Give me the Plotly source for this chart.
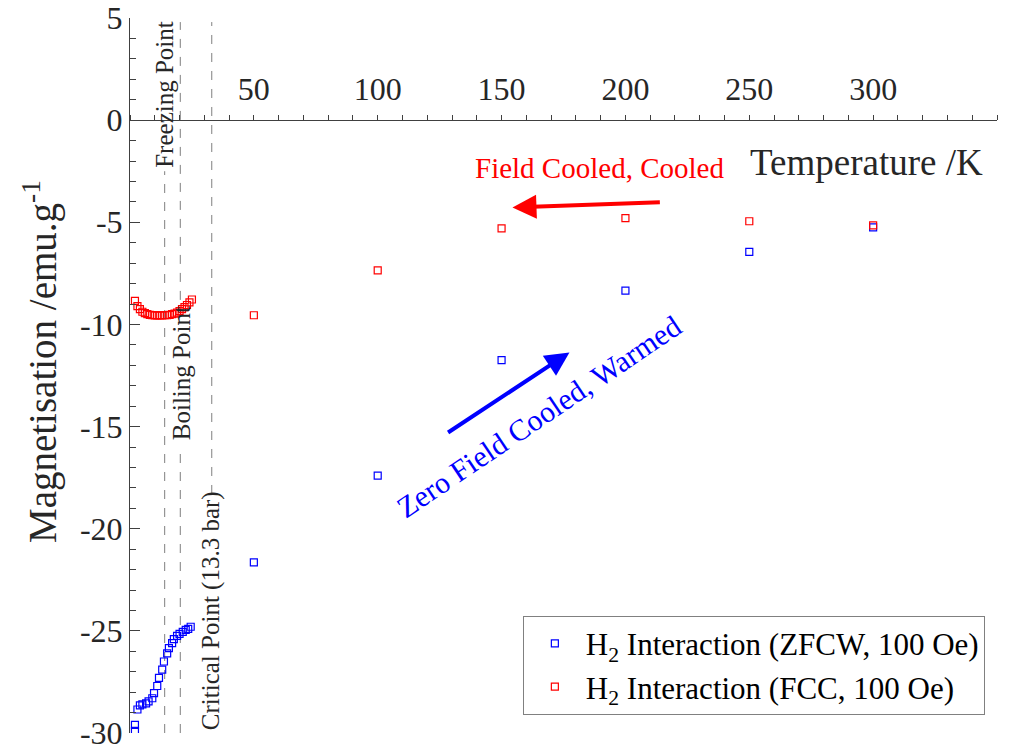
import plotly.graph_objects as go

# ---- data ----
zfcw_T = [2, 2, 3, 4, 5, 6.5, 7.5, 9, 9.7, 11, 11.7, 13, 13.7, 15, 15.7, 17, 17.7, 19, 20, 21.3, 22.5, 23.5, 24.5,
          50, 100, 150, 200, 250, 300]
zfcw_M = [-29.9, -29.6, -28.85, -28.65, -28.6, -28.55, -28.45, -28.3, -28.05, -27.7, -27.3, -26.9, -26.5, -26.1,
          -25.85, -25.6, -25.4, -25.25, -25.15, -25.05, -24.95, -24.9, -24.8,
          -21.65, -17.4, -11.75, -8.35, -6.45, -5.25]
fcc_T = [2, 3, 4, 5, 6, 7, 8, 9, 10, 11, 12, 13, 14, 15, 16, 17, 18, 19, 20, 21, 22, 23, 24, 25,
         50, 100, 150, 200, 250, 300]
fcc_M = [-8.85, -9.1, -9.25, -9.38, -9.45, -9.5, -9.53, -9.55, -9.56, -9.56, -9.56, -9.56, -9.55, -9.55, -9.53,
         -9.5, -9.47, -9.42, -9.35, -9.25, -9.15, -9.05, -8.92, -8.78,
         -9.55, -7.35, -5.3, -4.8, -4.95, -5.15]

x_tickvals = list(range(0, 351, 10))
x_ticktext = [str(v) if v in (50, 100, 150, 200, 250, 300) else "" for v in x_tickvals]
y_tickvals = [5, 0, -5, -10, -15, -20, -25, -30]
y_ticktext = ["5", "0", "-5", "-10", "-15", "-20", "-25", "-30"]

# reference temperatures (K): freezing, boiling, critical point of H2
ref_T = [14, 20.3, 33]
ref_labels = ["Freezing Point", "Boiling Point", "Critical Point (13.3 bar)"]
ref_label_y = [1.25, -12.4, -24.0]
ref_label_dx = [-0.2, 0.6, 0.0]
# visible segments of the dashed lines (gaps where labels sit)
ref_segments = [[(-30, -2.5)], [(-30, -16.0), (-8.8, 4.8)], [(-18.3, 4.8)]]

# arrows: (tail T, tail M, head T, head M)
red_arrow = (214.5, -4.02, 154.4, -4.28)
blue_arrow = (127.8, -15.34, 177.4, -11.37)

FONT = "Liberation Serif, Times New Roman, serif"
AX = "#404040"

fig = go.Figure()
fig.add_trace(go.Scatter(x=zfcw_T, y=zfcw_M, mode="markers",
                         name="H<sub>2</sub> Interaction (ZFCW, 100 Oe)",
                         marker=dict(symbol="square-open", size=7, color="#0000ff", line=dict(width=1.2))))
fig.add_trace(go.Scatter(x=fcc_T, y=fcc_M, mode="markers",
                         name="H<sub>2</sub> Interaction (FCC, 100 Oe)",
                         marker=dict(symbol="square-open", size=7, color="#ff0000", line=dict(width=1.2))))

for T, segs in zip(ref_T, ref_segments):
    for y0, y1 in segs:
        fig.add_shape(type="line", x0=T, x1=T, y0=y0, y1=y1, xref="x", yref="y",
                      line=dict(color="#7f7f7f", width=1, dash="dash"), layer="below")

for T, lab, ly, dx in zip(ref_T, ref_labels, ref_label_y, ref_label_dx):
    fig.add_annotation(x=T + dx, y=ly, xref="x", yref="y", text=lab, textangle=-90, showarrow=False,
                       xanchor="center", yanchor="middle",
                       font=dict(family=FONT, size=25, color="#262626"))

fig.add_annotation(x=red_arrow[2], y=red_arrow[3], ax=red_arrow[0], ay=red_arrow[1], axref="x", ayref="y",
                   xref="x", yref="y", text="", showarrow=True, arrowhead=2, arrowsize=1.2, arrowwidth=4,
                   arrowcolor="#ff0000")
fig.add_annotation(x=blue_arrow[2], y=blue_arrow[3], ax=blue_arrow[0], ay=blue_arrow[1], axref="x", ayref="y",
                   xref="x", yref="y", text="", showarrow=True, arrowhead=2, arrowsize=1.2, arrowwidth=4,
                   arrowcolor="#0000ff")

fig.add_annotation(x=189.5, y=-2.35, xref="x", yref="y", text="Field Cooled, Cooled", showarrow=False,
                   xanchor="center", yanchor="middle",
                   font=dict(family=FONT, size=29, color="#ff0000"))
fig.add_annotation(x=165.0, y=-14.5, xref="x", yref="y", text="Zero Field Cooled, Warmed", showarrow=False,
                   xanchor="center", yanchor="middle",
                   textangle=-34, font=dict(family=FONT, size=30, color="#0000ff"))
fig.add_annotation(x=345, y=-2.05, xref="x", yref="y", xanchor="right", yanchor="middle",
                   text="Temperature /K", showarrow=False,
                   font=dict(family=FONT, size=37, color="#262626"))
fig.add_annotation(x=-0.104, y=0.52, xref="paper", yref="paper", text="Magnetisation /emu.g<sup>-1</sup>",
                   xanchor="center", yanchor="middle",
                   textangle=-90, showarrow=False, font=dict(family=FONT, size=39, color="#262626"))

fig.update_layout(
    width=1002, height=747,
    margin=dict(l=122, r=13, t=10, b=22, autoexpand=False),
    paper_bgcolor="white", plot_bgcolor="white",
    font=dict(family=FONT, size=32, color="#262626"),
    showlegend=True,
    legend=dict(x=0.986, y=0.164, xanchor="right", yanchor="top", bgcolor="white",
                bordercolor="#808080", borderwidth=1, font=dict(family=FONT, size=31, color="#000000"),
                tracegroupgap=0, itemwidth=52),
    xaxis=dict(range=[0, 350], anchor="free", position=30 / 35, side="top", automargin=False,
               tickvals=x_tickvals, ticktext=x_ticktext, ticks="outside", ticklen=5,
               tickcolor=AX, showline=True, linecolor=AX, linewidth=1,
               showgrid=False, zeroline=False, ticklabelstandoff=2, ticklabeloverflow="allow",
               tickfont=dict(family=FONT, size=32, color="#262626")),
    yaxis=dict(range=[-30, 5], tickvals=y_tickvals, ticktext=y_ticktext, ticks="inside", ticklen=10,
               automargin=False, ticklabeloverflow="allow",
               tickcolor=AX, showline=True, linecolor=AX, linewidth=1,
               showgrid=False, zeroline=False,
               minor=dict(dtick=1, ticks="inside", ticklen=6, tickcolor=AX),
               tickfont=dict(family=FONT, size=32, color="#262626")),
)

fig.write_html("out.html")
